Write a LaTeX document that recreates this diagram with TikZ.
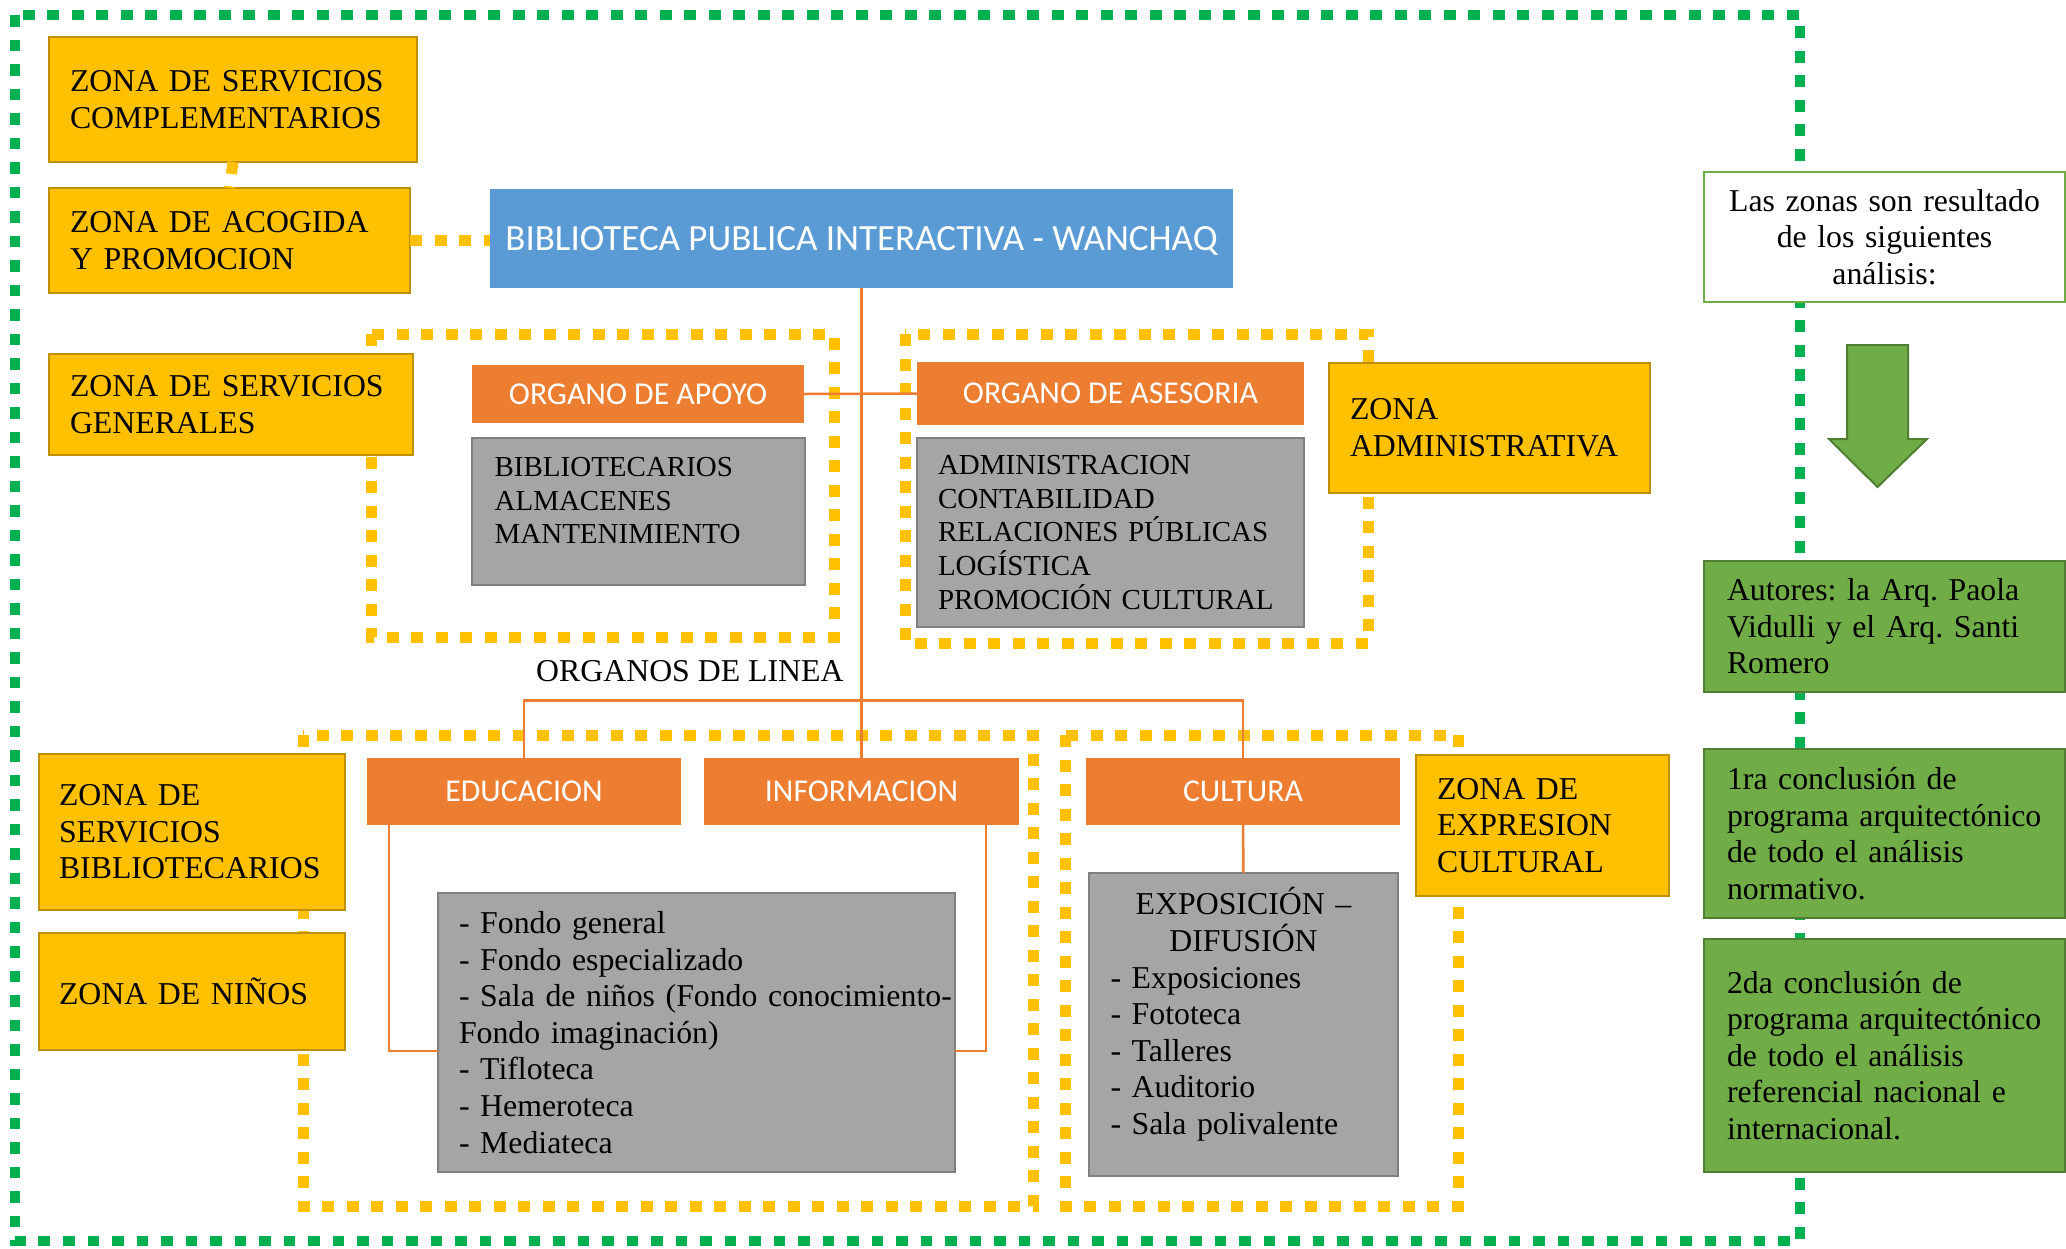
\documentclass[tikz,border=0pt]{standalone}
\usepackage{fontspec}
\setmainfont{Liberation Serif}
\newfontfamily\calib{Carlito}
\usetikzlibrary{calc}
\hyphenpenalty=10000
\exhyphenpenalty=10000
\frenchspacing
\definecolor{gzone}{HTML}{FFC000}
\definecolor{gzoneb}{HTML}{BF9000}
\definecolor{orgo}{HTML}{ED7D31}
\definecolor{blu}{HTML}{5B9BD5}
\definecolor{gry}{HTML}{A5A5A5}
\definecolor{gryb}{HTML}{7F7F7F}
\definecolor{grn}{HTML}{70AD47}
\definecolor{grnb}{HTML}{507E32}
\definecolor{dgrn}{HTML}{00B050}
\newcommand\zfnt{\frenchspacing\fontsize{31.8pt}{36.6pt}\selectfont}
\newcommand\lstfnt{\frenchspacing\fontsize{29pt}{33.6pt}\selectfont}
\newcommand\orgfnt{\calib\fontsize{31.8pt}{36.6pt}\selectfont}
\newcommand\bibfnt{\calib\fontsize{37pt}{42pt}\selectfont}
\tikzset{
  box/.style={anchor=north west, inner ysep=0pt, outer sep=0pt, align=left},
  zone/.style={box, fill=gzone, draw=gzoneb, line width=2.2pt, font=\zfnt},
  glist/.style={box, fill=gry, draw=gryb, line width=2.5pt},
  gbox/.style={box, fill=grn, draw=grnb, line width=2.5pt, font=\zfnt, inner xsep=23pt, text width=315pt, minimum width=361pt},
  obox/.style={anchor=north west, inner sep=0pt, outer sep=0pt, fill=orgo, text=white, font=\orgfnt, text depth=0pt},
  ydot/.style={draw=gzone, line width=11pt, dash pattern=on 12pt off 12.5pt},
  gdot/.style={draw=dgrn, line width=10.7pt, dash pattern=on 11.6pt off 12.9pt},
  oline/.style={draw=orgo, line width=2.5pt}
}
\begin{document}
\begin{tikzpicture}[x=1pt, y=-1pt]
\useasboundingbox (0,0) rectangle (2066,1248);
\fill[white] (0,0) rectangle (2066,1248);
% outer green frame
\draw[gdot] (15,15) rectangle (1800,1241);
% yellow dotted groups
\draw[ydot] (371,334) rectangle (834,637);
\draw[ydot] (905,334) rectangle (1368,643);
\draw[ydot] (303,735) rectangle (1033,1206);
\draw[ydot] (1065,735) rectangle (1458,1206);

% zone boxes
\node[zone, inner xsep=21pt, minimum width=368pt, minimum height=125pt, text width=326pt] (compl) at (49,37) {ZONA DE SERVICIOS\\COMPLEMENTARIOS};
\node[zone, inner xsep=21pt, minimum width=361pt, minimum height=105pt, text width=319pt] (acog) at (49,188) {ZONA DE ACOGIDA\\Y PROMOCION};
\node[zone, inner xsep=21pt, minimum width=364pt, minimum height=101pt, text width=322pt] (gener) at (49,354) {ZONA DE SERVICIOS\\GENERALES};
\node[zone, inner xsep=21pt, minimum width=321pt, minimum height=130pt, text width=279pt] (admin) at (1329,363) {ZONA\\ADMINISTRATIVA};
\node[zone, inner xsep=20pt, minimum width=306pt, minimum height=156pt, text width=266pt] (zbib) at (39,754) {ZONA DE\\SERVICIOS\\BIBLIOTECARIOS};
\node[zone, inner xsep=20pt, minimum width=306pt, minimum height=117pt, text width=266pt] (ninos) at (39,933) {ZONA DE NIÑOS};
\node[zone, inner xsep=21pt, minimum width=253pt, minimum height=141pt, text width=211pt] (expr) at (1416,755) {ZONA DE\\EXPRESION\\CULTURAL};

% main blue box
\node[obox, fill=blu, font=\bibfnt, minimum width=743pt, minimum height=99pt] (bib) at (490,189) {BIBLIOTECA PUBLICA INTERACTIVA - WANCHAQ};

% orange boxes
\node[obox, minimum width=332pt, minimum height=58pt] (apoyo) at (472,365) {ORGANO DE APOYO};
\node[obox, minimum width=387pt, minimum height=63pt] (ases) at (917,362) {ORGANO DE ASESORIA};
\node[obox, minimum width=314pt, minimum height=67pt] (edu) at (367,758) {EDUCACION};
\node[obox, minimum width=315pt, minimum height=67pt] (info) at (704,758) {INFORMACION};
\node[obox, minimum width=314pt, minimum height=67pt] (cult) at (1086,758) {CULTURA};

% gray lists
\node[glist, font=\lstfnt, inner xsep=22.6pt, minimum width=333pt, minimum height=147pt, text width=287.8pt] (apoyolist) at (472,438) {BIBLIOTECARIOS\\ALMACENES\\MANTENIMIENTO\rule[-22pt]{0pt}{0pt}};
\node[glist, font=\lstfnt, inner xsep=21pt, minimum width=387pt, minimum height=189pt, text width=345pt] (aseslist) at (917,438) {ADMINISTRACION\\CONTABILIDAD\\RELACIONES~PÚBLICAS\\LOGÍSTICA\\PROMOCIÓN~CULTURAL};
\node[glist, font=\zfnt, inner xsep=21pt, minimum width=517pt, minimum height=279pt, text width=475pt] (fondo) at (438,893) {- Fondo general\\- Fondo especializado\\- Sala~de~niños~(Fondo~conocimiento-\\Fondo imaginación)\\- Tifloteca\\- Hemeroteca\\- Mediateca};
\node[glist, font=\zfnt, inner xsep=21.5pt, minimum width=309pt, minimum height=303pt, text width=266pt] (expo) at (1089,873) {\makebox[\hsize]{EXPOSICIÓN –}\\\makebox[\hsize]{DIFUSIÓN}\\- Exposiciones\\- Fototeca\\- Talleres\\- Auditorio\\- Sala polivalente\rule[-27pt]{0pt}{0pt}};

% label
\node[anchor=base west, inner sep=0pt, font=\zfnt] (linea) at (536,681) {ORGANOS DE LINEA};
\coordinate (lineaY) at (0,700.6);

% right column
\node[box, fill=white, draw=grn, line width=2.5pt, font=\zfnt, align=center, inner xsep=15pt, text width=331pt, minimum width=361pt, minimum height=130pt] (zonas) at (1704,172) {Las zonas son resultado\\de los siguientes\\análisis:};
\node[gbox, minimum height=131pt] (autores) at (1704,561) {Autores: la Arq. Paola\\Vidulli y el Arq. Santi\\Romero};
\node[gbox, minimum height=169pt] (c1) at (1704,749) {1ra conclusión de\\programa~arquitectónico\\de todo el análisis\\normativo.};
\node[gbox, minimum height=233pt] (c2) at (1704,939) {2da conclusión de\\programa~arquitectónico\\de todo el análisis\\referencial nacional e\\internacional.};

% down arrow
\filldraw[fill=grn, draw=grnb, line width=2pt, line join=miter] (1847,345) -- (1908,345) -- (1908,439) -- (1927,439) -- (1877.5,487) -- (1829,439) -- (1847,439) -- cycle;

% orange connectors
\draw[oline] (bib.south) -- (info.north);
\draw[oline] (edu.north) -- (edu.north |- lineaY) -- (cult.north |- lineaY) -- (cult.north);
\draw[oline] (apoyo.east) -- (ases.west);
\coordinate (eL) at (389,1051);
\coordinate (iR) at (986,1051);
\draw[oline] (edu.south -| eL) -- (eL) -- (eL -| fondo.west);
\draw[oline] (info.south -| iR) -- (iR) -- (iR -| fondo.east);
\draw[oline] (cult.south) -- (expo.north);

% yellow dotted connectors
\draw[ydot] (compl.south) -- (acog.north);
\draw[ydot] (acog.east) -- (acog.east -| bib.west);
\end{tikzpicture}
\end{document}
